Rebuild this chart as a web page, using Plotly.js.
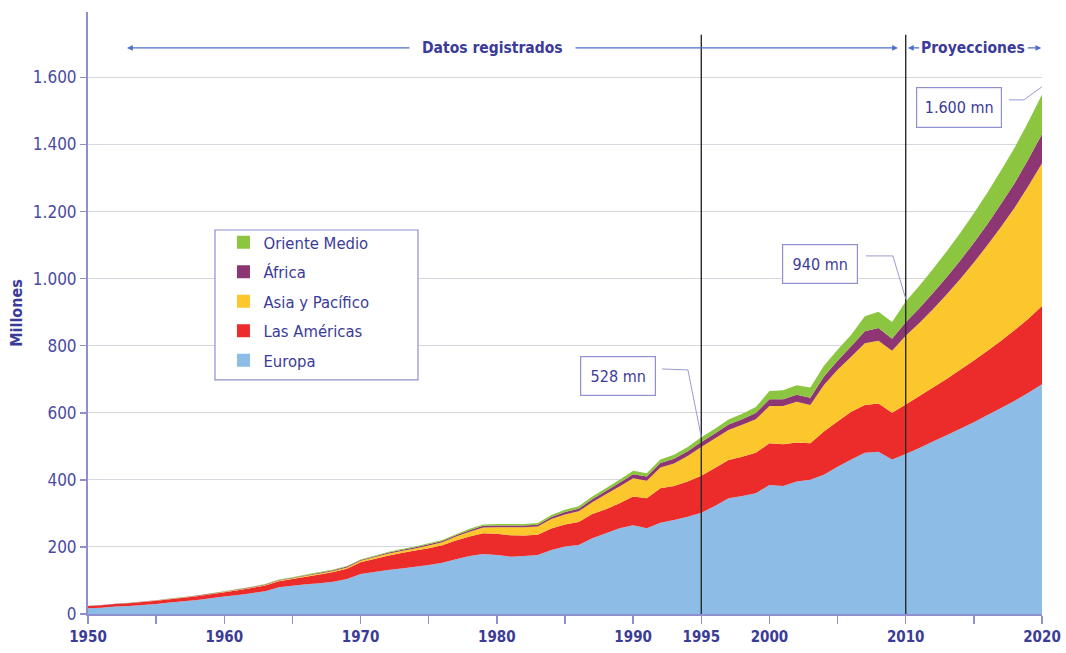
<!DOCTYPE html>
<html>
<head>
<meta charset="utf-8">
<script src="https://cdn.plot.ly/plotly-3.0.1.min.js"></script>
<style>
  html, body { margin: 0; padding: 0; background: #ffffff; }
  #chart { width: 1066px; height: 653px; }
</style>
</head>
<body>
<div id="chart"></div>
<script>
// ---------- data (millions of international tourist arrivals) ----------
const years = [
  1950,1951,1952,1953,1954,1955,1956,1957,1958,1959,
  1960,1961,1962,1963,1964,1965,1966,1967,1968,1969,
  1970,1971,1972,1973,1974,1975,1976,1977,1978,1979,
  1980,1981,1982,1983,1984,1985,1986,1987,1988,1989,
  1990,1991,1992,1993,1994,1995,1996,1997,1998,1999,
  2000,2001,2002,2003,2004,2005,2006,2007,2008,2009,
  2010,2011,2012,2013,2014,2015,2016,2017,2018,2019,2020
];
const europa = [
  17,19,22,24,27,30,34,38,42,47,
  52,57,62,68,80,84,89,92,96,104,
  119,125,131,136,141,146,153,163,173,179,
  176,171,173,176,191,201,206,226,241,256,
  265,256,272,280,290,302,322,345,352,360,
  385,382,395,400,415,439,461,481,484,461,
  477,495,514,533,552,572,593,614,636,660,685
];
const americas = [
  6.5,7,7.5,8,9,9.5,10,10.5,11,12,
  13,14,15.5,17,18,20,22,26,29,31,
  35,39,43,46,48,50,52,56,58,62,
  63,64,61,60,64,66,68,72,71,74,
  85,89,103,102,105,110,113,114,117,121,
  124,124,116,109,129,135,142,142,144,139,
  148,155,161,168,176,184,192,201,211,220,233
];
const asiaPacifico = [
  0.2,0.3,0.3,0.4,0.5,0.6,0.7,0.8,0.9,1.0,
  1.1,1.3,1.5,1.8,2.1,2.4,2.8,3.1,3.5,4.0,
  4.5,5,5.5,6,6.5,8,9,12,14,17,
  20,24,25,25,28,30,32,35,45,50,
  55,52,62,67,76,86,88,90,95,100,
  111,114,122,114,139,154,164,184,187,185,
  205,218,234,252,271,292,315,340,365,396,426
];
const africa = [
  0.5,0.5,0.6,0.6,0.7,0.7,0.8,0.9,0.9,1.0,
  1.0,1.2,1.3,1.5,1.6,1.8,2.0,2.1,2.3,2.4,
  2.4,2.6,2.8,3.0,3.2,4,4,4,5,5,
  5,5,5,5,6,7,8,9,10,11,
  12,13,13,14,14,15,15,16,17,18,
  20,20,21,22,25,27,31,36,38,36,
  40,44,48,51,55,59,63,68,73,80,87
];
const orienteMedio = [
  0.2,0.2,0.3,0.3,0.4,0.5,0.5,0.6,0.7,0.8,
  0.8,1.0,1.1,1.3,1.4,1.6,1.7,1.8,1.8,1.9,
  1.9,2.1,2.3,2.5,2.6,3,3,3,4,4,
  4,4,4,5,6,7,7,8,8,9,
  10,10,11,12,13,14,14,15,16,18,
  25,27,28,30,32,33,35,45,48,50,
  62,67,72,77,82,88,94,100,106,112,118
];
const seriesNames = ["Europa", "Las Américas", "Asia y Pacífico", "África", "Oriente Medio"];
const seriesColors = ["#8dbde6", "#ec2b2b", "#fcc72c", "#8e3673", "#8cc540"];
const seriesData = [europa, americas, asiaPacifico, africa, orienteMedio];

const xTickVals = [1950,1955,1960,1965,1970,1975,1980,1985,1990,1995,2000,2005,2010,2015,2020];
const xTickText = ["1950","","1960","","1970","","1980","","1990","1995","2000","","2010","","2020"];
const yTickVals = [0,200,400,600,800,1000,1200,1400,1600];

// callouts
const callouts = [
  {text: "528 mn",   year: 1995, value: 528},
  {text: "940 mn",   year: 2010, value: 940},
  {text: "1.600 mn", year: 2020, value: 1572}
];

// ---------- styling ----------
const FONT = "'Liberation Sans Narrow', 'DejaVu Sans Condensed', 'Liberation Sans', Arial, sans-serif";
const TXT = "#3b3b98";
const AXC = "#8f8fcf";
const ARROW = "#4f6fc8";

const traces = [];
seriesData.forEach((d, i) => {
  traces.push({
    type: "scatter", x: years, y: d, name: seriesNames[i],
    stackgroup: "one", mode: "none", fill: "tonexty",
    fillcolor: seriesColors[i], line: {width: 0},
    showlegend: false, hoverinfo: "x+y+name"
  });
});
// legend entries (square swatches), top series listed first
for (let i = seriesData.length - 1; i >= 0; i--) {
  traces.push({
    type: "scatter", x: [null], y: [null], name: seriesNames[i],
    mode: "markers", marker: {symbol: "square", size: 13, color: seriesColors[i]},
    legendgroup: "g" + i, showlegend: true
  });
}

const annotations = [
  // Datos registrados arrows
  {x: 1952.86, y: 1688, ax: 1979.7, ay: 1688, axref: "x", ayref: "y", xref: "x", yref: "y",
   text: "", showarrow: true, arrowhead: 2, arrowsize: 0.9, arrowwidth: 1.3, arrowcolor: ARROW},
  {x: 2009.43, y: 1688, ax: 1979.7, ay: 1688, axref: "x", ayref: "y", xref: "x", yref: "y",
   text: "", showarrow: true, arrowhead: 2, arrowsize: 0.9, arrowwidth: 1.3, arrowcolor: ARROW},
  {x: 1979.7, y: 1688, xref: "x", yref: "y", text: "Datos registrados", showarrow: false,
   bgcolor: "#ffffff", borderpad: 12,
   font: {family: FONT, size: 15.5, color: TXT, weight: "bold"}},
  // Proyecciones arrows
  {x: 2010.16, y: 1688, ax: 2011.1, ay: 1688, axref: "x", ayref: "y", xref: "x", yref: "y",
   text: "", showarrow: true, arrowhead: 2, arrowsize: 0.9, arrowwidth: 1.3, arrowcolor: ARROW},
  {x: 2019.95, y: 1688, ax: 2018.85, ay: 1688, axref: "x", ayref: "y", xref: "x", yref: "y",
   text: "", showarrow: true, arrowhead: 2, arrowsize: 0.9, arrowwidth: 1.3, arrowcolor: ARROW},
  {x: 2014.97, y: 1688, xref: "x", yref: "y", text: "Proyecciones", showarrow: false,
   font: {family: FONT, size: 15.5, color: TXT, weight: "bold"}},
  // callout boxes
  {x: 1988.88, y: 709.8, xref: "x", yref: "y", text: callouts[0].text, showarrow: false,
   width: 72, height: 36, bordercolor: AXC, borderwidth: 1.2, bgcolor: "#ffffff",
   font: {family: FONT, size: 16, color: TXT}},
  {x: 2003.70, y: 1043.8, xref: "x", yref: "y", text: callouts[1].text, showarrow: false,
   width: 72, height: 36, bordercolor: AXC, borderwidth: 1.2, bgcolor: "#ffffff",
   font: {family: FONT, size: 16, color: TXT}},
  {x: 2013.90, y: 1510.6, xref: "x", yref: "y", text: callouts[2].text, showarrow: false,
   width: 82, height: 37, bordercolor: AXC, borderwidth: 1.2, bgcolor: "#ffffff",
   font: {family: FONT, size: 16, color: TXT}}
];

const LEAD = "#9a9ad2";
const shapes = [
  // vertical separators
  {type: "line", xref: "x", yref: "y", x0: 1995, x1: 1995, y0: 0, y1: 1727,
   line: {color: "#2b2b2b", width: 1.4}, layer: "above"},
  {type: "line", xref: "x", yref: "y", x0: 2010, x1: 2010, y0: 0, y1: 1727,
   line: {color: "#2b2b2b", width: 1.4}, layer: "above"},
  // leader lines
  {type: "path", xref: "x", yref: "y", layer: "above", line: {color: LEAD, width: 1},
   path: "M 1992.11,730.7 L 1994.02,727.7 L " + callouts[0].year + "," + callouts[0].value},
  {type: "path", xref: "x", yref: "y", layer: "above", line: {color: LEAD, width: 1},
   path: "M 2007.08,1067.7 L 2009.06,1067.7 L " + callouts[1].year + "," + callouts[1].value},
  {type: "path", xref: "x", yref: "y", layer: "above", line: {color: LEAD, width: 1},
   path: "M 2017.57,1533 L 2018.67,1533 L " + callouts[2].year + "," + callouts[2].value},
  // legend box
  {type: "rect", xref: "paper", yref: "paper", layer: "above",
   x0: 0.1331, x1: 0.3459, y0: 0.3890, y1: 0.6379,
   line: {color: AXC, width: 1.2}, fillcolor: "#ffffff"}
];

const layout = {
  width: 1066, height: 653,
  margin: {l: 88, r: 24, t: 12, b: 39},
  paper_bgcolor: "#ffffff", plot_bgcolor: "#ffffff",
  separators: ",.",
  showlegend: true,
  legend: {
    x: 0.142, y: 0.646, xanchor: "left", yanchor: "top",
    bgcolor: "rgba(0,0,0,0)", borderwidth: 0,
    traceorder: "grouped", tracegroupgap: 5,
    font: {family: FONT, size: 16.5, color: TXT}
  },
  xaxis: {
    range: [1950, 2020], tickmode: "array", tickvals: xTickVals, ticktext: xTickText,
    ticks: "outside", ticklen: 8, tickwidth: 1.5, tickcolor: AXC,
    showline: true, linecolor: AXC, linewidth: 2, showgrid: false, zeroline: false,
    tickfont: {family: FONT, size: 15, color: TXT, weight: "bold"}, fixedrange: true
  },
  yaxis: {
    range: [0, 1795], tickmode: "array", tickvals: yTickVals, tickformat: ",d",
    ticks: "outside", ticklen: 6, tickwidth: 1.5, tickcolor: AXC,
    showline: true, linecolor: AXC, linewidth: 2,
    showgrid: true, gridcolor: "#d6d6de", gridwidth: 1, zeroline: false,
    tickfont: {family: FONT, size: 17, color: "#4a4aa2"},
    title: {text: "Millones", standoff: 6, font: {family: FONT, size: 16, color: TXT, weight: "bold"}},
    fixedrange: true
  },
  annotations: annotations,
  shapes: shapes
};

Plotly.newPlot("chart", traces, layout, {displayModeBar: false, staticPlot: true});
</script>
</body>
</html>
